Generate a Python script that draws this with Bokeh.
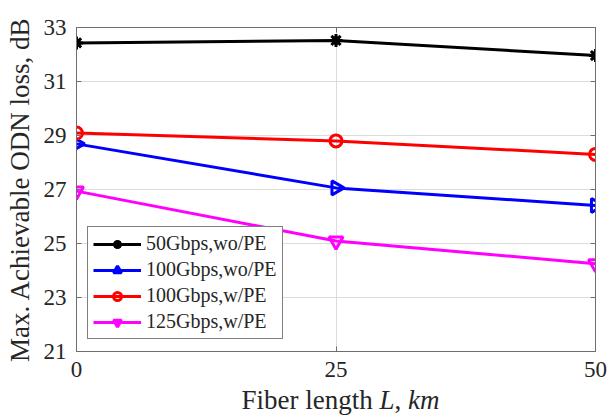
from bokeh.plotting import figure
from bokeh.models import Range1d, FixedTicker, LinearAxis, Legend, Div
from bokeh.layouts import column
from bokeh.embed import file_html
from bokeh.resources import INLINE
import numpy as np

fiber_km = [0, 25, 50]
s50_wo = [32.43, 32.52, 31.96]
s100_wo = [28.69, 27.06, 26.41]
s100_w = [29.09, 28.80, 28.30]
s125_w = [26.94, 25.09, 24.25]
x_ticks = [0, 25, 50]
y_ticks = [21, 23, 25, 27, 29, 31, 33]

FONT = "Liberation Serif"
AX = "#6e6e6e"
TXT = "#262626"

p = figure(width=610, height=385, output_backend="svg", toolbar_location=None,
           x_range=Range1d(0, 50), y_range=Range1d(21, 33),
           min_border_left=76, min_border_right=15, min_border_top=27, min_border_bottom=34)
p.background_fill_color = "white"
p.border_fill_color = "white"
p.outline_line_color = AX
p.outline_line_width = 1

for ax in (p.xaxis[0], p.yaxis[0]):
    ax.axis_line_color = AX
    ax.major_tick_line_color = AX
    ax.major_tick_in = 5
    ax.major_tick_out = 0
    ax.minor_tick_line_color = None
    ax.major_label_text_font = FONT
    ax.major_label_text_color = TXT
    ax.major_label_text_font_size = "23px"
    ax.major_label_standoff = 10
p.xaxis[0].ticker = FixedTicker(ticks=x_ticks)
p.yaxis[0].ticker = FixedTicker(ticks=y_ticks)
p.yaxis[0].axis_label = "Max. Achievable ODN loss, dB"
p.yaxis[0].axis_label_text_font = FONT
p.yaxis[0].axis_label_text_font_size = "27px"
p.yaxis[0].axis_label_text_font_style = "normal"
p.yaxis[0].axis_label_text_color = TXT
p.yaxis[0].axis_label_standoff = 6

for loc, ticks in (("right", y_ticks), ("above", x_ticks)):
    a = LinearAxis(ticker=FixedTicker(ticks=ticks), major_label_overrides={t: "" for t in ticks})
    a.axis_line_color = AX
    a.major_tick_line_color = AX
    a.major_tick_in = 5
    a.major_tick_out = 0
    a.minor_tick_line_color = None
    a.major_label_standoff = 0
    p.add_layout(a, loc)

p.xgrid.ticker = FixedTicker(ticks=x_ticks)
p.ygrid.ticker = FixedTicker(ticks=y_ticks)
p.grid.grid_line_color = "#dcdcdc"
p.grid.grid_line_width = 1

LW = 3
r1l = p.line(fiber_km, s50_wo, line_color="black", line_width=LW)
r1m = p.scatter(fiber_km, s50_wo, marker="asterisk", size=13, line_color="black", line_width=3)
r1m2 = p.scatter(fiber_km, s50_wo, marker="circle", size=8, fill_color="black", line_color="black")

r2l = p.line(fiber_km, s100_wo, line_color="blue", line_width=LW)
r2m = p.scatter(fiber_km, s100_wo, marker="triangle", angle=-np.pi / 2, size=14,
                line_color="blue", fill_color=None, line_width=LW)

r3l = p.line(fiber_km, s100_w, line_color="red", line_width=LW)
r3m = p.scatter(fiber_km, s100_w, marker="circle", size=12,
                line_color="red", fill_color=None, line_width=LW)

r4l = p.line(fiber_km, s125_w, line_color="magenta", line_width=LW)
r4m = p.scatter(fiber_km, s125_w, marker="inverted_triangle", size=14,
                line_color="magenta", fill_color=None, line_width=LW)

legend = Legend(items=[
    ("50Gbps,wo/PE", [r1l, r1m, r1m2]),
    ("100Gbps,wo/PE", [r2l, r2m]),
    ("100Gbps,w/PE", [r3l, r3m]),
    ("125Gbps,w/PE", [r4l, r4m]),
], location=(11, 12))
legend.label_text_font = FONT
legend.label_text_font_size = "20px"
legend.label_text_color = TXT
legend.border_line_color = "black"
legend.border_line_width = 1
legend.background_fill_color = "white"
legend.background_fill_alpha = 1
legend.padding = 5
legend.margin = 0
legend.spacing = 3
legend.glyph_width = 48
legend.glyph_height = 20
legend.label_height = 20
legend.label_standoff = 5
p.add_layout(legend, "center")

xlabel = Div(
    text=('<div style="position:relative; top:-5px; width:519px; margin-left:76px; '
          'text-align:center; font-family:\'Liberation Serif\'; font-size:27px; '
          'line-height:30px; color:#262626; white-space:nowrap;">'
          'Fiber length <i>L</i>, <i>km</i></div>'),
    width=610, height=35)

layout = column(p, xlabel, spacing=0)
open("out.html", "w").write(file_html(layout, INLINE))
